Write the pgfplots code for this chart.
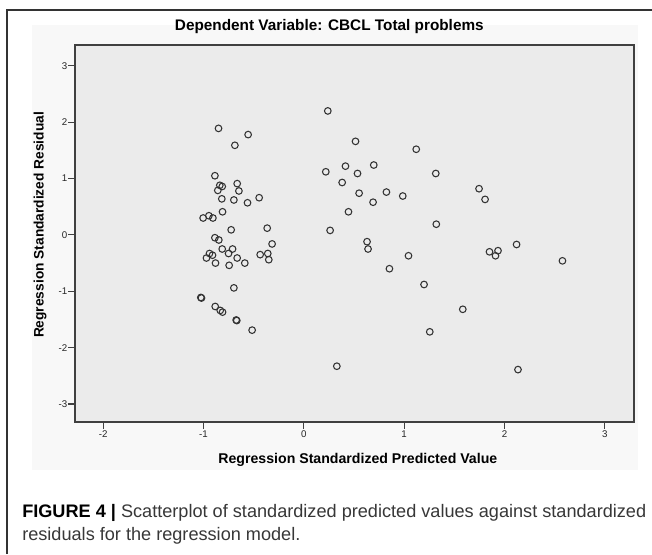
\documentclass[border=0pt]{standalone}
\usepackage{fontspec}
\setmainfont{Liberation Sans}
\usepackage{pgfplots}
\pgfplotsset{compat=1.18}
\definecolor{panel}{RGB}{248,248,248}
\definecolor{plotbg}{RGB}{235,235,235}
\definecolor{captxt}{RGB}{55,55,55}

\pgfplotstableread{
x y
-0.850 1.89
-0.555 1.78
-0.687 1.59
-0.886 1.05
-0.837 0.88
-0.813 0.86
-0.857 0.79
-0.664 0.91
-0.647 0.78
-0.817 0.64
-0.697 0.62
-0.561 0.57
-0.445 0.66
-0.810 0.41
-0.946 0.34
-1.003 0.30
-0.906 0.30
-0.724 0.09
-0.365 0.12
-0.316 -0.16
-0.886 -0.05
-0.847 -0.09
-0.813 -0.25
-0.710 -0.25
-0.750 -0.33
-0.940 -0.33
-0.910 -0.36
-0.970 -0.41
-0.880 -0.50
-0.744 -0.54
-0.664 -0.41
-0.588 -0.50
-0.435 -0.35
-0.359 -0.33
-0.349 -0.44
-0.697 -0.94
-1.026 -1.11
-1.020 -1.12
-0.883 -1.27
-0.833 -1.34
-0.810 -1.37
-0.674 -1.51
-0.668 -1.52
-0.515 -1.69
0.239 2.20
0.515 1.66
1.120 1.52
0.219 1.12
0.415 1.22
0.535 1.09
0.697 1.24
0.382 0.93
1.315 1.09
0.551 0.74
0.823 0.76
0.986 0.69
0.690 0.58
0.445 0.41
0.262 0.08
1.320 0.19
0.630 -0.12
0.640 -0.25
1.043 -0.37
0.853 -0.60
1.198 -0.88
1.255 -1.72
0.329 -2.33
1.746 0.82
1.806 0.63
2.120 -0.17
1.850 -0.30
1.935 -0.28
1.910 -0.37
2.577 -0.46
1.584 -1.32
2.134 -2.39
}\residuals

\begin{document}
\begin{tikzpicture}
\useasboundingbox (0pt,0pt) rectangle (489pt,415.5pt);
\fill[panel] (24pt,63pt) rectangle (478.5pt,396.75pt);
\draw[line width=0.9pt, black!80] (5.25pt,0pt) -- (5.25pt,408pt) -- (489pt,408pt);

\begin{axis}[
  at={(56.25pt,99pt)}, anchor=south west,
  scale only axis, width=419.25pt, height=282.75pt,
  xmin=-2.28, xmax=3.29, ymin=-3.32, ymax=3.37,
  axis background/.style={fill=plotbg},
  axis line style={black!75, line width=0.8pt},
  xtick={-2,-1,0,1,2,3}, ytick={-3,-2,-1,0,1,2,3},
  tick align=outside, tick pos=left,
  major tick length=5pt,
  every tick/.style={black!75, line width=0.8pt},
  /pgf/number format/assume math mode=true,
  tick label style={font=\fontsize{7.3}{8}\selectfont, black!85},
  yticklabel style={inner sep=0.5pt},
  xticklabel style={inner sep=1.5pt},
  title={Dependent Variable: CBCL Total problems},
  title style={font=\bfseries\fontsize{11.5}{13}\selectfont,
    at={(axis description cs:0.455,1.0265)}, anchor=center},
  xlabel={Regression Standardized Predicted Value},
  xlabel style={font=\bfseries\fontsize{10.6}{12}\selectfont,
    at={(axis description cs:0.506,-0.1008)}, anchor=center},
  ylabel={Regression Standardized Residual},
  ylabel style={font=\bfseries\fontsize{10.3}{12}\selectfont,
    at={(axis description cs:-0.0626,0.5225)}, anchor=center},
]
\addplot[only marks, mark=o, mark size=2.5pt,
  mark options={black!80, line width=0.8pt}] table[x=x, y=y] {\residuals};
\end{axis}

\node[anchor=base west, inner sep=0pt, font=\fontsize{13.6}{16}\selectfont, text=captxt]
  at (16.5pt,27.75pt) {\textbf{\color{black}FIGURE 4 |} Scatterplot of standardized predicted values against standardized};
\node[anchor=base west, inner sep=0pt, font=\fontsize{13.6}{16}\selectfont, text=captxt]
  at (16.5pt,10.5pt) {residuals for the regression model.};
\end{tikzpicture}
\end{document}
